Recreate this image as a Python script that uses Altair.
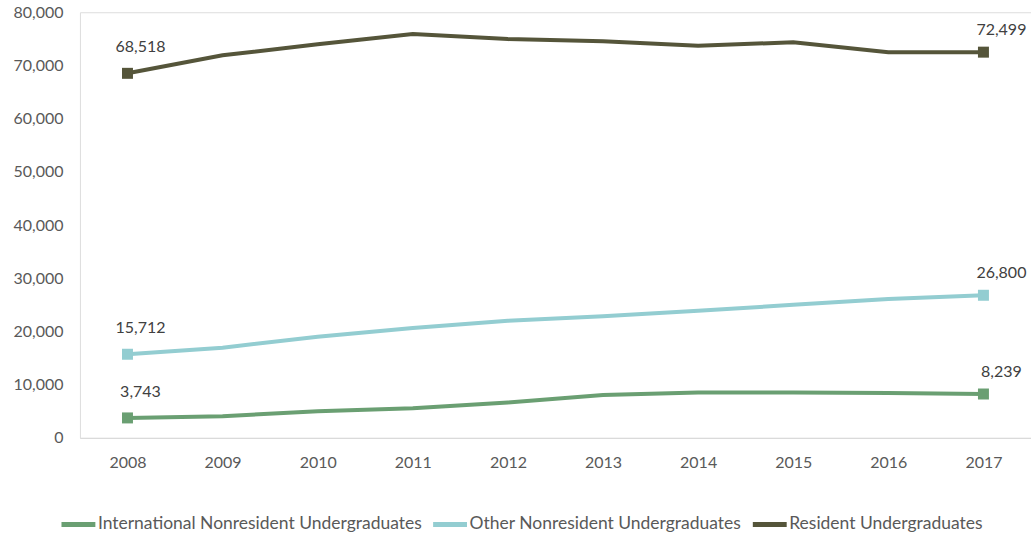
import altair as alt
import pandas as pd

years = ["2008", "2009", "2010", "2011", "2012", "2013", "2014", "2015", "2016", "2017"]
series = ["International Nonresident Undergraduates", "Other Nonresident Undergraduates", "Resident Undergraduates"]
international = [3743, 4050, 5000, 5550, 6650, 8050, 8500, 8500, 8450, 8239]
other_nonres = [15712, 16950, 19000, 20650, 22000, 22850, 23900, 25000, 26100, 26800]
resident = [68518, 71900, 74000, 75900, 74950, 74550, 73700, 74350, 72480, 72499]
colors = ["#6A9F72", "#93CDD1", "#55553A"]

rows = []
for name, vals in zip(series, [international, other_nonres, resident]):
    for i, (y, v) in enumerate(zip(years, vals)):
        rows.append({"Year": y, "Series": name, "Value": v,
                     "End": "first" if i == 0 else ("last" if i == len(years) - 1 else "mid")})
df = pd.DataFrame(rows)

FONT = "Lato"

x = alt.X("Year:O", scale=alt.Scale(type="point", padding=0.5),
          axis=alt.Axis(title=None, labelAngle=0, ticks=False, domain=True,
                        domainColor="#D9D9D9", domainWidth=1, labelPadding=17,
                        labelFontSize=16, labelColor="#595959", labelFont=FONT))
y = alt.Y("Value:Q", scale=alt.Scale(domain=[0, 80000], nice=False),
          axis=alt.Axis(title=None, values=list(range(0, 80001, 10000)),
                        labelExpr="format(datum.value, ',')",
                        grid=False, ticks=False, domain=False, labelPadding=17,
                        labelFontSize=16, labelColor="#595959", labelFont=FONT))
color = alt.Color("Series:N", scale=alt.Scale(domain=series, range=colors),
                  legend=alt.Legend(title=None, orient="none", direction="horizontal",
                                    legendX=-21, legendY=493, symbolType="stroke",
                                    symbolSize=1150, symbolStrokeWidth=5,
                                    labelFontSize=17.5, labelColor="#595959", labelFont=FONT,
                                    labelLimit=0, labelOffset=0, columnPadding=0, padding=0))

base = alt.Chart(df)
lines = base.mark_line(strokeWidth=4).encode(x=x, y=y, color=color)
ends = base.transform_filter(alt.datum.End != "mid")
points = ends.mark_point(shape="square", filled=True, size=121, opacity=1).encode(
    x=x, y=y, color=alt.Color("Series:N", scale=alt.Scale(domain=series, range=colors), legend=None))
labels_first = base.transform_filter(alt.datum.End == "first").mark_text(
    dy=-26, dx=13, fontSize=16, font=FONT, color="#404040").encode(
    x=x, y=y, text=alt.Text("Value:Q", format=","))
labels_last = base.transform_filter(alt.datum.End == "last").mark_text(
    dy=-22, dx=18, fontSize=16, font=FONT, color="#404040").encode(
    x=x, y=y, text=alt.Text("Value:Q", format=","))

chart = (lines + points + labels_first + labels_last).properties(
    width=952, height=426,
    autosize=alt.AutoSizeParams(type="none"),
    padding={"left": 80, "top": 12, "right": 0, "bottom": 99},
).configure_view(stroke=None).configure(background="white")

chart.save("out.html", embed_options={"renderer": "svg", "actions": False})
